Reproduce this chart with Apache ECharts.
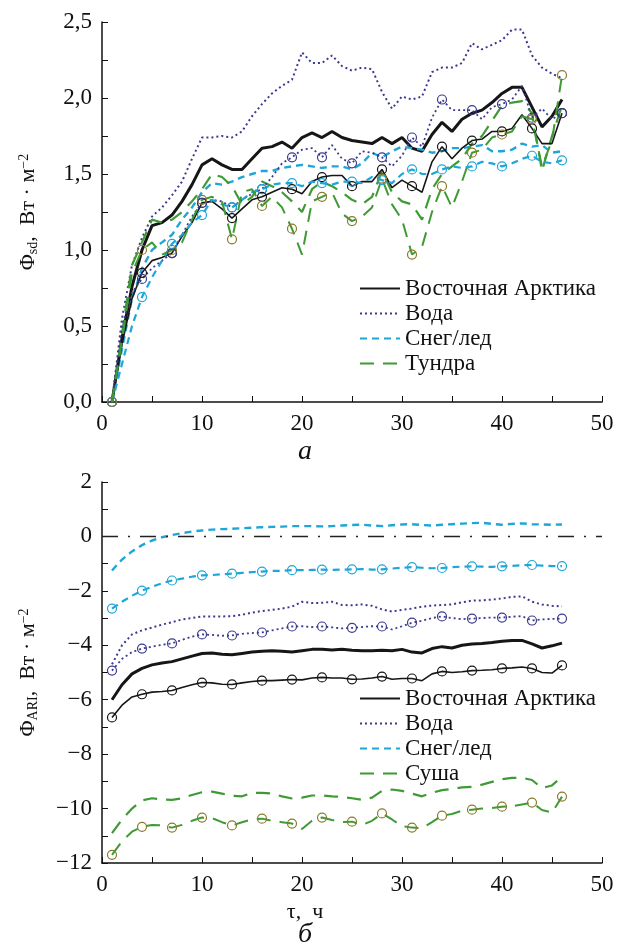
<!DOCTYPE html>
<html><head><meta charset="utf-8">
<script src="https://cdn.jsdelivr.net/npm/echarts@6/dist/echarts.min.js"></script>
<style>html,body{margin:0;padding:0;background:#fff}#c{width:620px;height:946px}</style>
</head><body><div id="c"></div>
<script>
const hours = [1,2,3,4,5,6,7,8,9,10,11,12,13,14,15,16,17,18,19,20,21,22,23,24,25,26,27,28,29,30,31,32,33,34,35,36,37,38,39,40,41,42,43,44,45,46];
const markerHours = [1,4,7,10,13,16,19,22,25,28,31,34,37,40,43,46];
const xTicks = [0,10,20,30,40,50];
const seriesNames = ['Восточная Арктика','Вода','Снег/лед','Тундра','Суша'];

// Panel a: Φsd
const sdArctic = [0,0.42,0.76,1.0,1.16,1.18,1.23,1.32,1.43,1.56,1.6,1.56,1.53,1.53,1.6,1.67,1.68,1.71,1.67,1.74,1.77,1.74,1.78,1.74,1.72,1.71,1.70,1.74,1.70,1.74,1.67,1.65,1.76,1.84,1.78,1.86,1.9,1.92,1.97,2.03,2.07,2.07,1.94,1.81,1.88,1.99];
const sdArcticM = [0,0.38,0.68,0.85,0.93,0.95,0.98,1.09,1.18,1.31,1.32,1.27,1.21,1.27,1.33,1.35,1.38,1.41,1.40,1.37,1.45,1.48,1.49,1.49,1.42,1.45,1.45,1.53,1.41,1.46,1.42,1.38,1.58,1.68,1.60,1.67,1.72,1.73,1.78,1.78,1.80,1.89,1.80,1.70,1.70,1.90];
const sdWater = [0,0.55,0.9,1.08,1.22,1.28,1.36,1.45,1.6,1.74,1.74,1.75,1.74,1.78,1.88,1.96,2.03,2.08,2.12,2.30,2.23,2.23,2.28,2.21,2.18,2.20,2.19,2.04,1.93,2.01,1.99,2.01,2.17,2.2,2.2,2.23,2.36,2.32,2.35,2.38,2.45,2.45,2.28,2.2,2.16,2.13];
const sdWaterM = [0,0.5,0.72,0.81,0.88,0.93,0.98,1.1,1.22,1.31,1.33,1.32,1.28,1.33,1.37,1.40,1.48,1.57,1.61,1.66,1.67,1.61,1.69,1.60,1.57,1.65,1.64,1.61,1.55,1.62,1.74,1.68,1.87,1.99,1.92,1.92,1.92,1.86,1.94,1.96,1.99,2.08,1.87,1.93,1.86,1.90];
const sdSnow = [0,0.35,0.68,0.88,1.0,1.05,1.1,1.2,1.28,1.38,1.44,1.43,1.45,1.48,1.5,1.52,1.52,1.54,1.55,1.56,1.55,1.54,1.55,1.55,1.53,1.57,1.64,1.61,1.65,1.68,1.67,1.66,1.64,1.65,1.67,1.67,1.68,1.69,1.65,1.65,1.66,1.70,1.68,1.69,1.64,1.65];
const sdSnowM = [0,0.25,0.5,0.69,0.82,0.93,1.04,1.1,1.18,1.23,1.33,1.3,1.28,1.33,1.38,1.40,1.43,1.44,1.44,1.42,1.45,1.44,1.43,1.45,1.45,1.44,1.48,1.46,1.44,1.5,1.53,1.50,1.50,1.53,1.55,1.54,1.55,1.58,1.57,1.55,1.57,1.6,1.62,1.58,1.57,1.59];
const sdTundra = [0,0.45,0.9,1.05,1.2,1.18,1.2,1.25,1.32,1.4,1.5,1.48,1.42,1.3,1.35,1.45,1.42,1.38,1.32,1.25,1.4,1.45,1.42,1.38,1.33,1.30,1.35,1.52,1.38,1.32,1.3,1.20,1.40,1.50,1.55,1.6,1.7,1.75,1.85,1.95,1.97,1.98,1.9,1.52,1.75,1.95];
const sdTundraM = [0,0.4,0.85,1.0,1.05,0.97,1.0,1.05,1.2,1.33,1.35,1.32,1.07,1.38,1.4,1.29,1.35,1.28,1.14,0.97,1.32,1.35,1.38,1.24,1.19,1.22,1.28,1.47,1.3,1.2,0.97,1.02,1.25,1.42,1.28,1.45,1.64,1.66,1.74,1.76,1.78,1.88,1.86,1.55,1.72,2.15];

// Panel б: ΦARI
const ariArctic = [-6.0,-5.45,-5.05,-4.85,-4.72,-4.65,-4.6,-4.5,-4.4,-4.3,-4.28,-4.33,-4.35,-4.3,-4.25,-4.22,-4.2,-4.22,-4.25,-4.2,-4.15,-4.15,-4.17,-4.15,-4.18,-4.2,-4.2,-4.18,-4.2,-4.15,-4.25,-4.28,-4.12,-4.05,-4.1,-4.0,-3.95,-3.93,-3.9,-3.85,-3.82,-3.82,-3.95,-4.1,-4.02,-3.92];
const ariArcticM = [-6.65,-6.2,-5.9,-5.8,-5.72,-5.7,-5.66,-5.55,-5.45,-5.37,-5.38,-5.43,-5.44,-5.38,-5.33,-5.3,-5.3,-5.28,-5.26,-5.27,-5.2,-5.18,-5.2,-5.2,-5.25,-5.24,-5.2,-5.15,-5.25,-5.22,-5.22,-5.3,-5.05,-4.96,-5.0,-4.97,-4.93,-4.92,-4.9,-4.85,-4.83,-4.8,-4.85,-5.0,-5.02,-4.74];
const ariWater = [-4.7,-4.0,-3.6,-3.45,-3.35,-3.24,-3.15,-3.05,-3.0,-2.94,-2.94,-2.94,-2.93,-2.88,-2.8,-2.74,-2.7,-2.65,-2.58,-2.4,-2.45,-2.44,-2.4,-2.52,-2.53,-2.5,-2.55,-2.68,-2.76,-2.7,-2.65,-2.58,-2.54,-2.52,-2.5,-2.42,-2.36,-2.35,-2.32,-2.28,-2.22,-2.2,-2.4,-2.5,-2.55,-2.57];
const ariWaterM = [-4.93,-4.5,-4.25,-4.12,-4.05,-3.98,-3.93,-3.8,-3.68,-3.6,-3.62,-3.65,-3.64,-3.58,-3.55,-3.53,-3.45,-3.38,-3.31,-3.3,-3.33,-3.31,-3.34,-3.38,-3.36,-3.33,-3.3,-3.31,-3.42,-3.3,-3.17,-3.1,-3.0,-2.94,-3.0,-3.04,-3.02,-3.0,-2.98,-2.98,-2.95,-2.93,-3.09,-3.05,-3.03,-3.02];
const ariSnow = [-1.25,-0.85,-0.55,-0.32,-0.15,-0.03,0.05,0.12,0.18,0.22,0.25,0.27,0.28,0.3,0.32,0.34,0.35,0.36,0.38,0.38,0.38,0.37,0.38,0.40,0.42,0.43,0.40,0.38,0.41,0.44,0.45,0.42,0.40,0.43,0.45,0.47,0.49,0.5,0.46,0.43,0.46,0.48,0.45,0.44,0.43,0.44];
const ariSnowM = [-2.65,-2.4,-2.18,-1.99,-1.85,-1.72,-1.62,-1.55,-1.48,-1.43,-1.42,-1.39,-1.37,-1.34,-1.31,-1.29,-1.27,-1.26,-1.24,-1.24,-1.23,-1.22,-1.23,-1.22,-1.21,-1.2,-1.22,-1.21,-1.18,-1.15,-1.13,-1.15,-1.17,-1.16,-1.13,-1.11,-1.1,-1.11,-1.12,-1.1,-1.08,-1.06,-1.05,-1.07,-1.09,-1.09];
const ariLand = [-10.9,-10.4,-10.0,-9.7,-9.62,-9.67,-9.68,-9.62,-9.5,-9.4,-9.38,-9.45,-9.53,-9.55,-9.42,-9.42,-9.45,-9.55,-9.63,-9.6,-9.52,-9.52,-9.55,-9.57,-9.62,-9.68,-9.6,-9.35,-9.3,-9.35,-9.45,-9.55,-9.42,-9.32,-9.28,-9.22,-9.2,-9.12,-9.02,-8.92,-8.87,-8.87,-8.95,-9.25,-9.15,-8.83];
const ariLandM = [-11.7,-11.2,-10.85,-10.67,-10.6,-10.62,-10.7,-10.6,-10.45,-10.33,-10.35,-10.5,-10.62,-10.5,-10.4,-10.37,-10.45,-10.5,-10.55,-10.75,-10.45,-10.33,-10.42,-10.5,-10.48,-10.6,-10.45,-10.18,-10.4,-10.65,-10.7,-10.72,-10.5,-10.26,-10.2,-10.08,-10.04,-10.0,-9.98,-9.93,-9.92,-9.85,-9.78,-10.05,-10.15,-9.56];

const C = {black:'#161616', navy:'#3b3a8e', cyan:'#1fa6d8', green:'#3f9a35', olive:'#8a7b2c'};
const FONT = 'Liberation Serif';
const pair = arr => hours.map((h,i)=>[h, arr[i]]);
const isMarker = (v)=> markerHours.indexOf(v[0]) >= 0;

function thick(name, arr, color, type, width, gi){
  return {name, type:'line', xAxisIndex:gi, yAxisIndex:gi, data:pair(arr), symbol:'none',
    lineStyle:{color, width, type}, itemStyle:{color}, z:3, animation:false};
}
function marked(name, arr, color, mcolor, type, width, gi){
  return {name, type:'line', xAxisIndex:gi, yAxisIndex:gi, data:pair(arr), showAllSymbol:true,
    symbol:(v)=> isMarker(v)?'circle':'none', symbolSize:9,
    lineStyle:{color, width, type}, itemStyle:{color:'rgba(0,0,0,0)', borderColor:mcolor, borderWidth:1.2}, z:4, animation:false};
}

const DOT=[2,3], DASH=[7,5], LDASH=[14,9];

function xAx(gi){
  return {type:'value', gridIndex:gi, min:0, max:50, interval:10,
    axisLine:{show:true,onZero:false,lineStyle:{color:'#111',width:1.5}},
    axisTick:{show:true,inside:true,length:6,lineStyle:{color:'#111'}},
    minorTick:{show:true,splitNumber:2,length:6,lineStyle:{color:'#111'}},
    splitLine:{show:false}, axisLabel:{fontFamily:FONT,fontSize:23,color:'#111',margin:10}};
}
function yAx(gi, min, max, interval, fmt, nameRich){
  return {type:'value', gridIndex:gi, min, max, interval,
    name: nameRich, nameLocation:'middle', nameRotate:90, nameGap:62,
    nameTextStyle:{fontFamily:FONT,fontSize:22,color:'#111', rich:{
      s:{fontFamily:FONT,fontSize:14,color:'#111',verticalAlign:'bottom',padding:[9,0,0,0]},
      p:{fontFamily:FONT,fontSize:14,color:'#111',verticalAlign:'top',padding:[0,0,9,0]},
      n:{fontFamily:FONT,fontSize:22,color:'#111'}}},
    axisLine:{show:true,onZero:false,lineStyle:{color:'#111',width:1.5}},
    axisTick:{show:true,inside:true,length:6,lineStyle:{color:'#111'}},
    minorTick:{show:true,splitNumber:2,length:6,lineStyle:{color:'#111'}},
    splitLine:{show:false}, axisLabel:{fontFamily:FONT,fontSize:23,color:'#111',margin:10,formatter:fmt}};
}

const fmtComma = v => v.toFixed(1).replace('.', ',');
const fmtMinus = v => v<0 ? '\u2212'+Math.abs(v) : String(v);

const chart = echarts.init(document.getElementById('c'), null, {renderer:'canvas'});
const series = [
  marked('m1', sdArcticM, C.black, C.black, 'solid', 1.6, 0),
  marked('m2', sdWaterM, C.navy, C.navy, DOT, 1.8, 0),
  marked('m3', sdSnowM, C.cyan, C.cyan, DASH, 2.2, 0),
  marked('m4', sdTundraM, C.green, C.olive, LDASH, 2, 0),
  thick(seriesNames[0], sdArctic, C.black, 'solid', 3, 0),
  thick(seriesNames[1], sdWater, C.navy, DOT, 2, 0),
  thick(seriesNames[2], sdSnow, C.cyan, DASH, 2.4, 0),
  thick(seriesNames[3], sdTundra, C.green, LDASH, 2.2, 0),
  marked('n1', ariArcticM, C.black, C.black, 'solid', 1.6, 1),
  marked('n2', ariWaterM, C.navy, C.navy, DOT, 1.8, 1),
  marked('n3', ariSnowM, C.cyan, C.cyan, DASH, 2.2, 1),
  marked('n4', ariLandM, C.green, C.olive, LDASH, 2, 1),
  Object.assign(thick(seriesNames[0], ariArctic, C.black, 'solid', 3, 1), {name:seriesNames[0]+' '}),
  Object.assign(thick(seriesNames[1], ariWater, C.navy, DOT, 2, 1), {name:seriesNames[1]+' '}),
  Object.assign(thick(seriesNames[2], ariSnow, C.cyan, DASH, 2.4, 1), {name:seriesNames[2]+' ',
    markLine:{silent:true, symbol:'none', label:{show:false}, animation:false,
      lineStyle:{color:'#222', width:1.3, type:[16,10,2,10]}, data:[{yAxis:0}]}}),
  thick(seriesNames[4], ariLand, C.green, LDASH, 2.2, 1)
];

const legendCommon = {orient:'vertical', itemWidth:40, itemHeight:14, itemGap:2,
  itemStyle:{opacity:0},
  textStyle:{fontFamily:FONT,fontSize:23,color:'#111'}};

chart.setOption({
  backgroundColor:'#fff',
  animation:false,
  grid:[{left:102,right:18,top:22,height:380},{left:102,right:18,top:482,height:381}],
  xAxis:[xAx(0), xAx(1)],
  yAxis:[yAx(0,0,2.5,0.5,fmtComma,'{n|\u03a6}{s|sd}{n|,  Вт · м}{p|\u22122}'),
         yAx(1,-12,2,2,fmtMinus,'{n|\u03a6}{s|ARI}{n|,  Вт · м}{p|\u22122}')],
  legend:[Object.assign({left:354, top:272, data:seriesNames.slice(0,4)}, legendCommon),
          Object.assign({left:354, top:682, data:[seriesNames[0]+' ',seriesNames[1]+' ',seriesNames[2]+' ',seriesNames[4]],
            formatter:n=>n.trim()}, legendCommon)],
  graphic:[
    {type:'text', x:305, y:452, style:{text:'а', font:'italic 28px "Liberation Serif"', fill:'#111', align:'center', verticalAlign:'middle'}},
    {type:'text', x:305, y:912, style:{text:'\u03c4,  ч', font:'22px "Liberation Serif"', fill:'#111', align:'center', verticalAlign:'middle'}},
    {type:'text', x:305, y:935, style:{text:'б', font:'italic 28px "Liberation Serif"', fill:'#111', align:'center', verticalAlign:'middle'}}
  ],
  series
});
</script></body></html>
